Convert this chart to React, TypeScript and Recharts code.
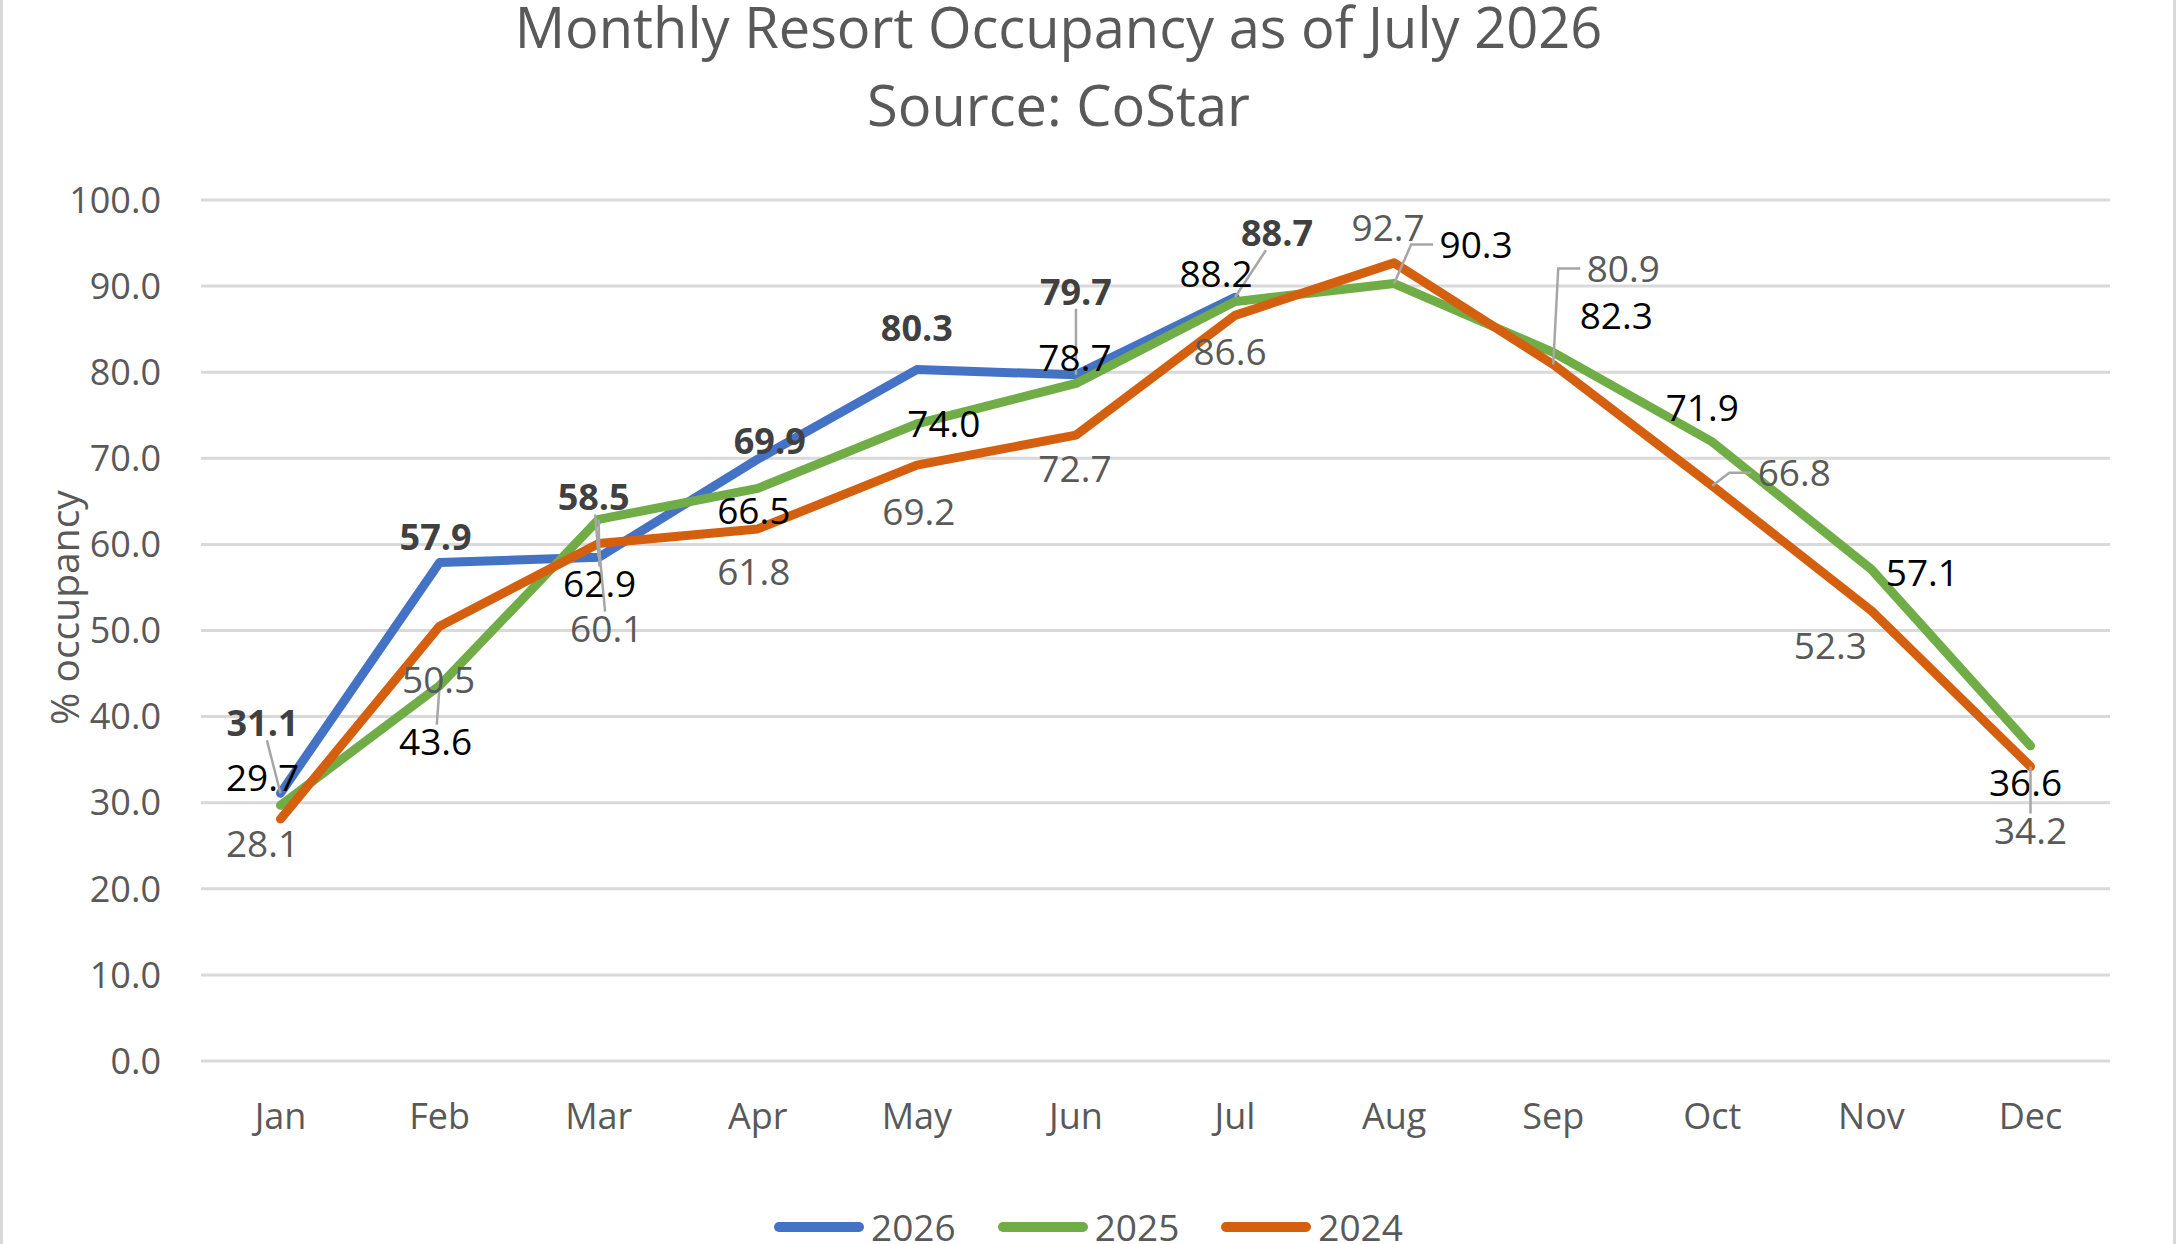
import React from 'react';
import { LineChart, Line, XAxis, YAxis, CartesianGrid, Legend, LabelList, Label } from 'recharts';

const MONTHS = ['Jan', 'Feb', 'Mar', 'Apr', 'May', 'Jun', 'Jul', 'Aug', 'Sep', 'Oct', 'Nov', 'Dec'];
const OCC_2026 = [31.1, 57.9, 58.5, 69.9, 80.3, 79.7, 88.7, null, null, null, null, null];
const OCC_2025 = [29.7, 43.6, 62.9, 66.5, 74.0, 78.7, 88.2, 90.3, 82.3, 71.9, 57.1, 36.6];
const OCC_2024 = [28.1, 50.5, 60.1, 61.8, 69.2, 72.7, 86.6, 92.7, 80.9, 66.8, 52.3, 34.2];
const Y_TICKS = [0, 10, 20, 30, 40, 50, 60, 70, 80, 90, 100];

const TITLE_LINE_1 = 'Monthly Resort Occupancy as of July 2026';
const TITLE_LINE_2 = 'Source: CoStar';
const Y_LABEL = '% occupancy';

const SERIES = [
  { key: 'y2026', name: '2026', color: '#4472C4' },
  { key: 'y2025', name: '2025', color: '#70AD47' },
  { key: 'y2024', name: '2024', color: '#D4600F' },
];

// label placement (offset from point, leader style) — styling, not data
const PLACE_2026: [number, number, string][] = [
  [-18, -70, 'line'], [-4, -25, ''], [-5, -60, 'line'], [12, -18, ''], [0, -42, ''], [0, -83, 'line'], [42, -64, 'line'],
];
const PLACE_2025: [number, number, string][] = [
  [-18, -28, ''], [-4, 56, 'line'], [1, 64, 'line'], [-4, 22, ''], [27, 0, ''], [-1, -26, ''], [-19, -28, ''],
  [82, -39, 'elbow'], [63, -37, ''], [-10, -34, ''], [51, 3, ''], [-5, 37, ''],
];
const PLACE_2024: [number, number, string][] = [
  [-18, 25, ''], [-1, 53, ''], [8, 85, 'line'], [-4, 43, ''], [2, 46, ''], [-1, 34, ''], [-5, 36, ''],
  [-6, -35, ''], [70, -96, 'elbow'], [82, -13, 'elbow'], [-41, 35, ''], [0, 64, 'line'],
];

const data = MONTHS.map((m, i) => ({
  month: m,
  y2026: OCC_2026[i],
  y2025: OCC_2025[i],
  y2024: OCC_2024[i],
}));

const FONT = '"Open Sans", "Noto Sans", sans-serif';
const W = 2177;
const H = 1244;

const makeLabel = (place: [number, number, string][], fill: string, weight: number, size: number) => (props: any) => {
  const { value, index } = props;
  const x = props.x ?? props.viewBox?.x;
  const y = props.y ?? props.viewBox?.y;
  if (value == null || x == null || y == null) return null;
  const p = place[index];
  if (!p) return null;
  const [dx, dy, leader] = p;
  const cx = x + dx;
  const cy = y + dy;
  const halfW = 39;
  const halfH = 17;
  let leaderEl: any = null;
  if (leader === 'line') {
    const vx = x - cx;
    const vy = y - cy;
    const t = Math.min(halfW / Math.max(Math.abs(vx), 1e-6), halfH / Math.max(Math.abs(vy), 1e-6));
    if (t < 1) {
      leaderEl = (
        <line x1={cx + vx * t} y1={cy + vy * t} x2={x} y2={y} stroke="#A6A6A6" strokeWidth={2.5} />
      );
    }
  } else if (leader === 'elbow') {
    const lx = cx - halfW - 4;
    leaderEl = (
      <path d={`M${lx},${cy} H${lx - 22} L${x},${y}`} fill="none" stroke="#A6A6A6" strokeWidth={2.5} />
    );
  }
  return (
    <g>
      {leaderEl}
      <text
        x={cx}
        y={cy}
        dy="0.36em"
        textAnchor="middle"
        fill={fill}
        fontSize={size}
        fontWeight={weight}
        fontFamily={FONT}
      >
        {Number(value).toFixed(1)}
      </text>
    </g>
  );
};

const LegendContent = () => (
  <div
    style={{
      display: 'flex',
      justifyContent: 'center',
      gap: 42,
      fontFamily: FONT,
      width: W,
    }}
  >
    {SERIES.map((s) => (
      <div key={s.key} style={{ display: 'flex', alignItems: 'center', gap: 7 }}>
        <div style={{ width: 90, height: 10, borderRadius: 5, background: s.color }} />
        <span style={{ fontSize: 37, lineHeight: '30px', color: '#595959' }}>{s.name}</span>
      </div>
    ))}
  </div>
);

const YTitle = (props: any) => {
  const vb = props.viewBox || { x: 0, y: 0, width: 0, height: 0 };
  const x = vb.x + 65;
  const y = vb.y + vb.height / 2 - 23;
  return (
    <text
      x={x}
      y={y}
      transform={`rotate(-90 ${x} ${y})`}
      textAnchor="middle"
      dy="0.36em"
      fill="#595959"
      fontSize={39}
      fontFamily={FONT}
    >
      {Y_LABEL}
    </text>
  );
};

export default function App() {
  return (
    <div
      style={{
        position: 'absolute',
        left: 0,
        top: 0,
        width: W,
        height: H,
        overflow: 'hidden',
        background: '#FFFFFF',
        fontFamily: FONT,
      }}
    >
      <div
        style={{
          position: 'absolute',
          left: 0,
          top: 0,
          width: W - 60,
          textAlign: 'center',
          fontSize: 56,
          color: '#595959',
          fontFamily: FONT,
        }}
      >
        <div style={{ lineHeight: '52px' }}>{TITLE_LINE_1}</div>
        <div style={{ lineHeight: '78px', marginTop: 13 }}>{TITLE_LINE_2}</div>
      </div>
      <LineChart
        width={W}
        height={H}
        data={data}
        margin={{ top: 200, right: 67, bottom: 153, left: 0 }}
      >
        <CartesianGrid vertical={false} stroke="#D9D9D9" strokeWidth={3} />
        <XAxis
          dataKey="month"
          axisLine={false}
          tickLine={false}
          tickSize={0}
          tickMargin={42}
          padding={{ left: 79.5, right: 79.5 }}
          tick={{ fill: '#595959', fontSize: 36, fontFamily: FONT }}
          interval={0}
        />
        <YAxis
          width={201}
          domain={[0, 100]}
          ticks={Y_TICKS}
          axisLine={false}
          tickLine={false}
          tickSize={0}
          tickMargin={40}
          tickFormatter={(v: number) => v.toFixed(1)}
          tick={{ fill: '#595959', fontSize: 36, fontFamily: FONT }}
        >
          <Label content={<YTitle />} />
        </YAxis>
        <Legend
          content={() => <LegendContent />}
          wrapperStyle={{ position: 'absolute', left: 0, top: 1212, width: W, height: 0, overflow: 'visible' }}
        />
        {SERIES.map((s) => (
          <Line
            key={s.key}
            type="linear"
            dataKey={s.key}
            name={s.name}
            stroke={s.color}
            strokeWidth={9}
            strokeLinejoin="round"
            strokeLinecap="round"
            dot={false}
            activeDot={false}
            isAnimationActive={false}
            connectNulls={false}
          />
        ))}
        <Line dataKey="y2026" stroke="none" dot={false} activeDot={false} legendType="none" isAnimationActive={false}>
          <LabelList dataKey="y2026" content={makeLabel(PLACE_2026, '#404040', 700, 36)} />
        </Line>
        <Line dataKey="y2025" stroke="none" dot={false} activeDot={false} legendType="none" isAnimationActive={false}>
          <LabelList dataKey="y2025" content={makeLabel(PLACE_2025, '#000000', 400, 37)} />
        </Line>
        <Line dataKey="y2024" stroke="none" dot={false} activeDot={false} legendType="none" isAnimationActive={false}>
          <LabelList dataKey="y2024" content={makeLabel(PLACE_2024, '#595959', 400, 37)} />
        </Line>
      </LineChart>
      <div style={{ position: 'absolute', left: 0, top: 0, width: 3, height: H, background: '#D9D9D9' }} />
      <div style={{ position: 'absolute', left: W - 4, top: 0, width: 3, height: H, background: '#D9D9D9' }} />
    </div>
  );
}
